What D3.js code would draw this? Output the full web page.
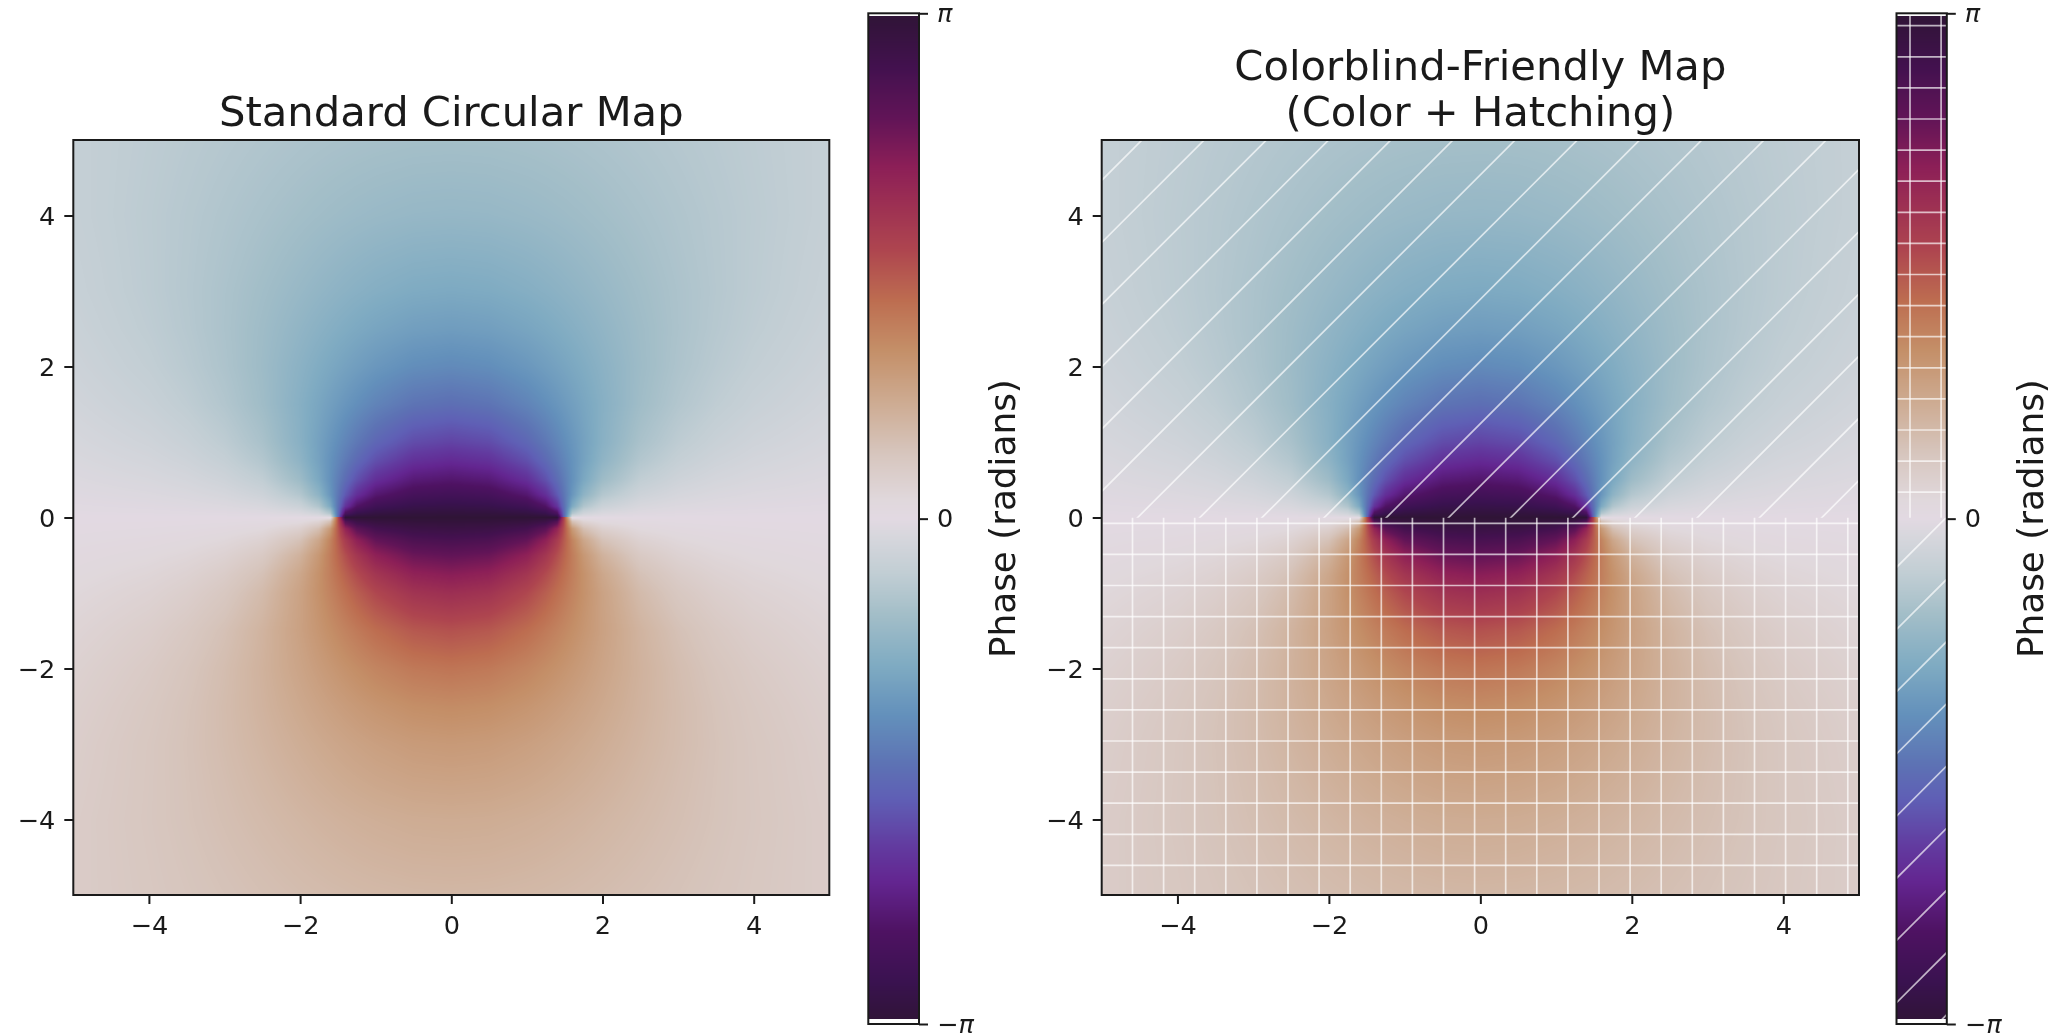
<!DOCTYPE html>
<html>
<head>
<meta charset="utf-8">
<script src="https://cdn.jsdelivr.net/npm/d3@7"></script>
<style>
  html, body { margin: 0; background: #fff; overflow: hidden; }
  #stage { position: relative; width: 2064px; height: 1035px; filter: blur(0.6px); }
  canvas, svg { position: absolute; left: 0; top: 0; }
  text { font-family: "DejaVu Sans", sans-serif; fill: #1a1a1a; }
</style>
</head>
<body>
<div id="stage">
  <canvas id="field" width="2064" height="1035"></canvas>
  <svg id="chart" width="2064" height="1035"></svg>
</div>
<script>
// Chart values
const axisTicks = [-4, -2, 0, 2, 4]
const cbarTicks = [-Math.PI, 0, Math.PI]
const cbarLabels = ["\u2212\u03c0", "0", "\u03c0"]
const titles = [["Standard Circular Map"], ["Colorblind-Friendly Map", "(Color + Hatching)"]]

// colour bar read from bottom (-pi) to top (+pi)
const colorPos = [0, .042, .091, .14, .174, .223, .256, .305, .355, .405, .447, .484, .5,
  .518, .568, .617, .667, .716, .766, .815, .848, .897, .946, 1]
const colorHex = ["#2f1436", "#3a1250", "#4e1262", "#632590", "#623a9f", "#5f5fb5", "#5d72b4",
  "#6390bb", "#7fabc2", "#a3bec8", "#c2ced4", "#d8d7dd", "#e2d9e2",
  "#e0d8dc", "#d6c4bb", "#cdaa90", "#c48f68", "#bd6d50", "#ae454f", "#9b2e53", "#8c1f57",
  "#611457", "#43114f", "#2f1436"]

// |phase| sampled on one quadrant of the map; the picture mirrors left/right,
// and the phase is negative above y = 0, positive below
const gridX = [0, .5, 1, 1.25, 1.4, 1.5, 1.6, 1.75, 2, 2.5, 3, 3.5, 4, 5]
const gridY = [0, .05, .15, .3, .5, .75, 1, 1.5, 2, 2.5, 3, 4, 5]
const phaseDepth = [
  [3.142, 3.142, 3.142, 3.142, 3.142, 1.571, 0, 0, 0, 0, 0, 0, 0, 0],
  [3.075, 3.067, 3.022, 2.926, 2.661, 1.554, .448, .182, .085, .037, .022, .015, .011, .007],
  [2.942, 2.918, 2.790, 2.547, 2.107, 1.521, .934, .494, .249, .111, .066, .045, .033, .020],
  [2.747, 2.701, 2.482, 2.157, 1.790, 1.471, 1.153, .783, .455, .217, .131, .089, .065, .039],
  [2.498, 2.433, 2.159, 1.855, 1.597, 1.406, 1.214, .954, .644, .339, .211, .145, .107, .065],
  [2.214, 2.139, 1.868, 1.626, 1.450, 1.326, 1.201, 1.022, .772, .458, .299, .210, .156, .096],
  [1.966, 1.893, 1.654, 1.467, 1.339, 1.249, 1.159, 1.027, .829, .540, .369, .266, .201, .126],
  [1.571, 1.515, 1.352, 1.236, 1.160, 1.107, 1.054, .973, .844, .624, .464, .352, .274, .178],
  [1.287, 1.249, 1.141, 1.066, 1.017, .983, .948, .895, .806, .644, .508, .405, .326, .221],
  [1.081, 1.055, .983, .933, .899, .876, .852, .815, .753, .632, .523, .432, .359, .253],
  [.927, .910, .860, .825, .802, .785, .768, .742, .697, .606, .519, .442, .377, .276],
  [.717, .709, .683, .665, .652, .644, .634, .620, .594, .540, .485, .432, .383, .300],
  [.583, .578, .563, .553, .545, .540, .535, .526, .511, .477, .441, .405, .369, .304],
]

// Layout
const H = { top: 140, bottom: 895 }
const panels = [
  { left: 73.3, right: 829.3, cbarLeft: 868.3, cbarRight: 919, labelX: 1015, hatched: false },
  { left: 1101.7, right: 1859, cbarLeft: 1896.5, cbarRight: 1946.8, labelX: 2043, hatched: true },
]
const CBAR = { top: 13.3, bottom: 1024, fillTop: 16, fillBottom: 1019 }
const zeroY = 517.8
const HATCH = 31.1 // hatch tile is shared by the whole figure

const phaseScale = d3.scaleLinear().domain(colorPos).range(colorHex).interpolate(d3.interpolateRgb)
const LEVELS = 1024
const lut = d3.range(LEVELS).map((i) => d3.rgb(phaseScale(i / (LEVELS - 1))))
const lutColor = (phase) => lut[Math.max(0, Math.min(LEVELS - 1, Math.floor(((phase + Math.PI) / (2 * Math.PI)) * LEVELS)))]

function phaseAt(x, y) {
  const ax = Math.min(Math.abs(x), 5)
  const ay = Math.min(Math.abs(y), 5)
  const i = Math.min(d3.bisectRight(gridX, ax), gridX.length - 1)
  const j = Math.min(d3.bisectRight(gridY, ay), gridY.length - 1)
  const tx = (ax - gridX[i - 1]) / (gridX[i] - gridX[i - 1])
  const ty = (ay - gridY[j - 1]) / (gridY[j] - gridY[j - 1])
  const a = phaseDepth[j - 1][i - 1] * (1 - tx) + phaseDepth[j - 1][i] * tx
  const b = phaseDepth[j][i - 1] * (1 - tx) + phaseDepth[j][i] * tx
  const m = a * (1 - ty) + b * ty
  return y > 0 ? -m : m
}

const ctx = document.getElementById("field").getContext("2d")
const image = ctx.createImageData(2064, 1035)
const svg = d3.select("#chart")

panels.forEach((p, idx) => {
  const x = d3.scaleLinear().domain([-5, 5]).range([p.left, p.right])
  const y = d3.scaleLinear().domain([-5, 5]).range([H.bottom, H.top])
  const yBar = d3.scaleLinear().domain([-Math.PI, Math.PI]).range([CBAR.bottom, CBAR.top])

  // phase image
  for (let py = Math.round(H.top); py < Math.round(H.bottom); py++) {
    for (let px = Math.round(p.left); px < Math.round(p.right); px++) {
      const c = lutColor(phaseAt(x.invert(px + 0.5), y.invert(py + 0.5)))
      const k = (py * 2064 + px) * 4
      image.data[k] = c.r
      image.data[k + 1] = c.g
      image.data[k + 2] = c.b
      image.data[k + 3] = 255
    }
  }

  const g = svg.append("g")

  // colour bar, painted row by row on the canvas
  for (let py = CBAR.fillTop; py < CBAR.fillBottom; py++) {
    const c = lutColor(yBar.invert(py + 0.5))
    for (let px = Math.round(p.cbarLeft); px < Math.round(p.cbarRight); px++) {
      const k = (py * 2064 + px) * 4
      image.data[k] = c.r
      image.data[k + 1] = c.g
      image.data[k + 2] = c.b
      image.data[k + 3] = 255
    }
  }

  if (p.hatched) {
    const boxes = [
      { x0: p.left, x1: p.right, y0: H.top, y1: H.bottom },
      { x0: p.cbarLeft, x1: p.cbarRight, y0: CBAR.fillTop, y1: CBAR.fillBottom },
    ]
    const hatchLine = (sel) => sel.attr("stroke", "#fff").attr("stroke-width", 1.7).attr("stroke-opacity", 0.68)
    boxes.forEach((b, bi) => {
      const clipUp = `up${bi}`
      const clipDown = `down${bi}`
      const above = bi === 0 ? [b.y0, zeroY] : [zeroY, b.y1] // plot: diagonals above 0, bar: diagonals below 0
      const below = bi === 0 ? [zeroY, b.y1] : [b.y0, zeroY]
      g.append("clipPath").attr("id", clipUp).append("rect")
        .attr("x", b.x0).attr("y", above[0]).attr("width", b.x1 - b.x0).attr("height", above[1] - above[0])
      g.append("clipPath").attr("id", clipDown).append("rect")
        .attr("x", b.x0).attr("y", below[0]).attr("width", b.x1 - b.x0).attr("height", below[1] - below[0])

      const diag = g.append("g").attr("clip-path", `url(#${clipUp})`)
      d3.range(-30, 60).forEach((k) => {
        const sum = 1904 + k * 2 * HATCH
        diag.append("line")
          .attr("x1", b.x0).attr("y1", sum - b.x0)
          .attr("x2", b.x1).attr("y2", sum - b.x1)
          .call(hatchLine)
      })
      const grid = g.append("g").attr("clip-path", `url(#${clipDown})`)
      d3.range(-20, 20).forEach((k) => {
        grid.append("line")
          .attr("x1", b.x0).attr("x2", b.x1)
          .attr("y1", 523.3 + k * HATCH).attr("y2", 523.3 + k * HATCH)
          .call(hatchLine)
      })
      d3.range(-12, 24).forEach((k) => {
        grid.append("line")
          .attr("y1", b.y0).attr("y2", b.y1)
          .attr("x1", 1381.3 + k * HATCH).attr("x2", 1381.3 + k * HATCH)
          .call(hatchLine)
      })
    })
  }

  // axes
  const styleAxis = (sel) => {
    sel.select(".domain").remove()
    sel.selectAll(".tick line").attr("stroke", "#1a1a1a").attr("stroke-width", 2)
    sel.selectAll("text").style("font-size", "25.6px").attr("fill", "#1a1a1a")
  }
  g.append("g")
    .attr("transform", `translate(0,${H.bottom})`)
    .call(d3.axisBottom(x).tickValues(axisTicks).tickSize(9).tickPadding(11.5))
    .call(styleAxis)
  g.append("g")
    .attr("transform", `translate(${p.left},0)`)
    .call(d3.axisLeft(y).tickValues(axisTicks).tickSize(9).tickPadding(9))
    .call(styleAxis)
    .selectAll("text").attr("dy", "0.36em")
  g.append("rect")
    .attr("x", p.left).attr("y", H.top)
    .attr("width", p.right - p.left).attr("height", H.bottom - H.top)
    .attr("fill", "none").attr("stroke", "#1a1a1a").attr("stroke-width", 2)

  const barAxis = g.append("g")
    .attr("transform", `translate(${p.cbarRight},0)`)
    .call(d3.axisRight(yBar).tickValues(cbarTicks).tickSize(9).tickPadding(9)
      .tickFormat((d, i) => cbarLabels[i]))
    .call(styleAxis)
  barAxis.selectAll("text").style("font-style", (d) => (d === 0 ? "normal" : "italic"))
  g.append("rect")
    .attr("x", p.cbarLeft).attr("y", CBAR.top)
    .attr("width", p.cbarRight - p.cbarLeft).attr("height", CBAR.bottom - CBAR.top)
    .attr("fill", "none").attr("stroke", "#1a1a1a").attr("stroke-width", 2)

  g.append("text")
    .attr("transform", `translate(${p.labelX},${yBar(0)}) rotate(-90)`)
    .attr("text-anchor", "middle")
    .style("font-size", "35.8px")
    .text("Phase (radians)")

  // title
  const lines = titles[idx]
  lines.forEach((line, i) => {
    g.append("text")
      .attr("x", (p.left + p.right) / 2)
      .attr("y", 126 - (lines.length - 1 - i) * 46)
      .attr("text-anchor", "middle")
      .style("font-size", "41.7px")
      .text(line)
  })
})

ctx.putImageData(image, 0, 0)
</script>
</body>
</html>
